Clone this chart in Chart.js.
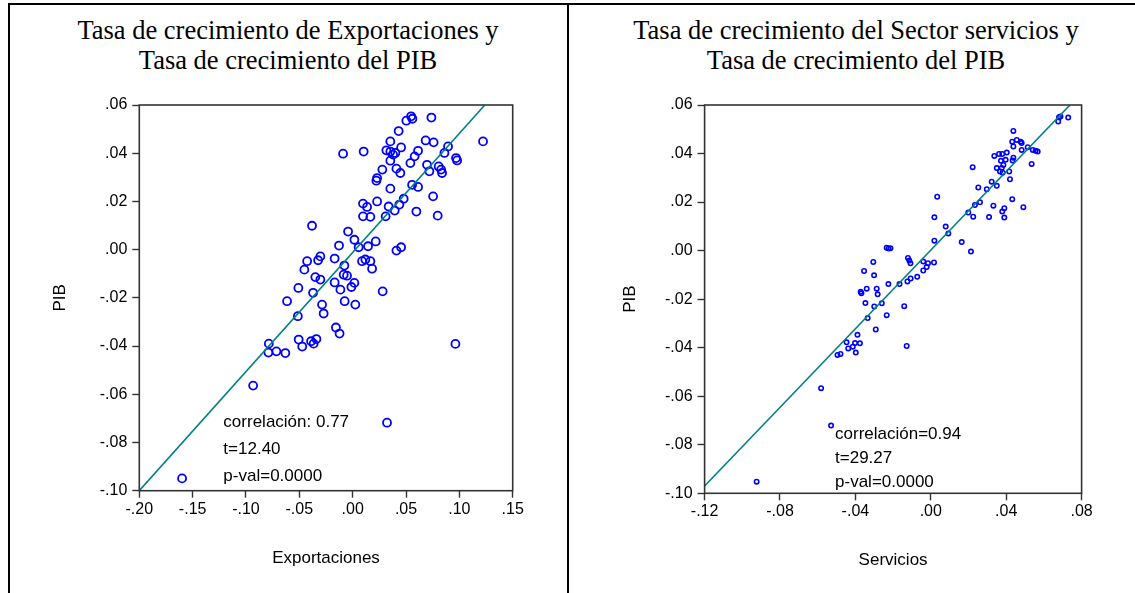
<!DOCTYPE html>
<html>
<head>
<meta charset="utf-8">
<script src="https://cdn.jsdelivr.net/npm/chart.js@4.4.0/dist/chart.umd.min.js"></script>
<style>
  html, body { margin: 0; padding: 0; background: #fff; }
  body { width: 1135px; height: 593px; position: relative; overflow: hidden; }
  .rule { position: absolute; background: #000; }
  .title {
    position: absolute; top: 15px; text-align: center;
    font-family: "Liberation Serif", "Times New Roman", serif;
    font-size: 26.5px; line-height: 30px; color: #000; white-space: nowrap;
  }
  canvas { position: absolute; top: 0; }
</style>
</head>
<body>
<div class="rule" style="left:8px; top:3px; width:1127px; height:1.5px;"></div>
<div class="rule" style="left:8px; top:3px; width:1.5px; height:590px;"></div>
<div class="rule" style="left:567px; top:3px; width:1.5px; height:590px;"></div>

<div class="title" style="left:8px; width:560px;">Tasa de crecimiento de Exportaciones y<br>Tasa de crecimiento del PIB</div>
<div class="title" style="left:576px; width:560px;">Tasa de crecimiento del Sector servicios y<br>Tasa de crecimiento del PIB</div>

<canvas id="chartExport" width="568" height="593" style="left:0;"></canvas>
<canvas id="chartServ" width="567" height="593" style="left:568px;"></canvas>

<script>
// Growth rates: exports vs GDP
const exportX = [-0.0090, 0.0103, 0.0353, 0.0316, 0.0353, 0.0379, 0.0400, 0.0454, 0.0431, 0.0503,
  0.0548, 0.0560, 0.0738, 0.0684, 0.0759, 0.0894, 0.0860, 0.0613, 0.0581, 0.0541,
  0.0353, 0.0410, 0.0447, 0.0278, 0.0229, 0.0222, 0.0353, 0.0557, 0.0613, 0.0697,
  0.0719, 0.0806, 0.0829, 0.0838, 0.0969, 0.0979, 0.1222, 0.0754, 0.0797, 0.0597,
  0.0478, 0.0438, 0.0394, 0.0337, 0.0309, 0.0229, 0.0097, 0.0135, 0.0097, 0.0166,
  -0.0043, 0.0016, -0.0128, 0.0056, 0.0144, 0.0216, 0.0410, 0.0454, -0.0381, -0.0303,
  -0.0324, -0.0427, -0.0453, -0.0169, -0.0078, 0.0088, 0.0119, 0.0166, 0.0182, -0.0084,
  -0.0053, -0.0169, 0.0016, -0.0012, -0.0115, -0.0350, -0.0303, -0.0509, -0.0371, -0.0615,
  -0.0287, -0.0272, -0.0075, 0.0025, 0.0281, -0.0514, -0.0157, -0.0123, -0.0506, -0.0390,
  -0.0340, -0.0366, -0.0473, -0.0786, -0.0790, -0.0715, -0.0631, -0.0933, 0.0322, 0.0963,
  -0.1599];
const exportPIB = [0.0398, 0.0407, 0.0449, 0.0412, 0.0407, 0.0394, 0.0401, 0.0424, 0.0492, 0.0535,
  0.0553, 0.0543, 0.0548, 0.0453, 0.0445, 0.0428, 0.0401, 0.0410, 0.0387, 0.0359,
  0.0369, 0.0336, 0.0318, 0.0332, 0.0297, 0.0286, 0.0253, 0.0269, 0.0260, 0.0352,
  0.0325, 0.0345, 0.0332, 0.0318, 0.0380, 0.0370, 0.0449, 0.0221, 0.0141, 0.0158,
  0.0211, 0.0187, 0.0162, 0.0179, 0.0138, 0.0200, 0.0191, 0.0177, 0.0138, 0.0136,
  0.0075, 0.0041, 0.0017, 0.0010, 0.0014, 0.0034, -0.0004, 0.0010, 0.0099, -0.0028,
  -0.0044, -0.0048, -0.0083, -0.0037, -0.0066, -0.0048, -0.0041, -0.0048, -0.0079, -0.0104,
  -0.0108, -0.0136, -0.0138, -0.0155, -0.0166, -0.0114, -0.0124, -0.0159, -0.0179, -0.0214,
  -0.0228, -0.0265, -0.0214, -0.0228, -0.0173, -0.0276, -0.0323, -0.0348, -0.0373, -0.0380,
  -0.0371, -0.0390, -0.0402, -0.0390, -0.0427, -0.0422, -0.0429, -0.0564, -0.0718, -0.0391,
  -0.0949];

// Growth rates: services sector vs GDP
const servX = [0.0680, 0.0688, 0.0676, 0.0729, 0.0438, 0.0432, 0.0456, 0.0477, 0.0482, 0.0438,
  0.0514, 0.0482, 0.0541, 0.0556, 0.0567, 0.0337, 0.0362, 0.0379, 0.0403, 0.0438,
  0.0434, 0.0397, 0.0372, 0.0535, 0.0385, 0.0350, 0.0376, 0.0367, 0.0381, 0.0416,
  0.0222, 0.0420, 0.0323, 0.0350, 0.0297, 0.0252, 0.0432, 0.0491, 0.0332, 0.0390,
  0.0379, 0.0390, 0.0309, 0.0261, 0.0234, 0.0199, 0.0225, 0.0034, 0.0019, 0.0079,
  0.0093, 0.0019, 0.0164, 0.0213, -0.0234, -0.0224, -0.0214, -0.0121, -0.0114, -0.0108,
  -0.0040, -0.0015, 0.0017, -0.0022, -0.0040, -0.0072, -0.0107, -0.0124, -0.0166, -0.0225,
  -0.0305, -0.0354, -0.0301, -0.0372, -0.0340, -0.0287, -0.0282, -0.0347, -0.0300, -0.0260,
  -0.0141, -0.0335, -0.0234, -0.0292, -0.0128, -0.0389, -0.0447, -0.0402, -0.0376, -0.0414,
  -0.0438, -0.0398, -0.0495, -0.0479, -0.0582, -0.0529, -0.0924, -0.0368];
const servPIB = [0.0550, 0.0553, 0.0532, 0.0548, 0.0493, 0.0449, 0.0456, 0.0449, 0.0443, 0.0429,
  0.0426, 0.0415, 0.0415, 0.0411, 0.0408, 0.0390, 0.0398, 0.0398, 0.0404, 0.0383,
  0.0371, 0.0374, 0.0370, 0.0357, 0.0353, 0.0340, 0.0340, 0.0326, 0.0321, 0.0326,
  0.0344, 0.0294, 0.0284, 0.0267, 0.0253, 0.0260, 0.0212, 0.0179, 0.0185, 0.0175,
  0.0161, 0.0136, 0.0138, 0.0199, 0.0188, 0.0157, 0.0140, 0.0222, 0.0137, 0.0099,
  0.0071, 0.0041, 0.0035, -0.0004, 0.0012, 0.0009, 0.0010, -0.0030, -0.0041, -0.0052,
  -0.0045, -0.0052, -0.0049, -0.0068, -0.0082, -0.0108, -0.0115, -0.0127, -0.0138, -0.0138,
  -0.0047, -0.0084, -0.0102, -0.0170, -0.0157, -0.0157, -0.0180, -0.0216, -0.0230, -0.0217,
  -0.0229, -0.0278, -0.0266, -0.0325, -0.0393, -0.0347, -0.0378, -0.0381, -0.0382, -0.0396,
  -0.0403, -0.0420, -0.0430, -0.0426, -0.0567, -0.0721, -0.0952, -0.0176];

// Fitted lines: [intercept, slope]
const exportFit = [-0.0012, 0.494];
const servFit = [0.0002, 0.810];

// Statistics shown inside each plot
const exportStats = ['correlación: 0.77', 't=12.40', 'p-val=0.0000'];
const servStats = ['correlación=0.94', 't=29.27', 'p-val=0.0000'];

// Axis ticks
const pibTicks = [-0.10, -0.08, -0.06, -0.04, -0.02, 0.00, 0.02, 0.04, 0.06];
const pibLabels = ['-.10', '-.08', '-.06', '-.04', '-.02', '.00', '.02', '.04', '.06'];
const exportTicks = [-0.20, -0.15, -0.10, -0.05, 0.00, 0.05, 0.10, 0.15];
const exportLabels = ['-.20', '-.15', '-.10', '-.05', '.00', '.05', '.10', '.15'];
const servTicks = [-0.12, -0.08, -0.04, 0.00, 0.04, 0.08];
const servLabels = ['-.12', '-.08', '-.04', '.00', '.04', '.08'];

const SANS = '"Liberation Sans", Arial, sans-serif';
const FRAME = '#333333';

function labelFor(ticks, labels, v) {
  const i = ticks.findIndex(t => Math.abs(t - v) < 1e-9);
  return i >= 0 ? labels[i] : '';
}

// Box around the plotting area plus the statistics text block
const framePlugin = {
  id: 'frameAndStats',
  afterDraw(chart, args, opts) {
    const { ctx, chartArea: a, scales } = chart;
    ctx.save();
    ctx.strokeStyle = FRAME;
    ctx.lineWidth = 1.6;
    ctx.strokeRect(a.left, a.top, a.right - a.left, a.bottom - a.top);
    ctx.fillStyle = '#000';
    ctx.font = opts.fontSize + 'px ' + SANS;
    ctx.textAlign = 'left';
    ctx.textBaseline = 'middle';
    const x0 = scales.x.getPixelForValue(opts.anchor[0]);
    const y0 = scales.y.getPixelForValue(opts.anchor[1]);
    opts.lines.forEach((t, i) => ctx.fillText(t, x0, y0 + i * opts.gap));
    ctx.restore();
  }
};

function buildChart(id, cfg) {
  const pts = cfg.xs.map((x, i) => ({ x: x, y: cfg.ys[i] }));
  const a = cfg.fit[0], b = cfg.fit[1];
  const xa = Math.max(cfg.xMin, (cfg.yMin - a) / b);
  const xb = Math.min(cfg.xMax, (cfg.yMax - a) / b);
  const fitPts = [{ x: xa, y: a + b * xa }, { x: xb, y: a + b * xb }];

  return new Chart(document.getElementById(id), {
    type: 'scatter',
    data: {
      datasets: [
        {
          type: 'line', data: fitPts, borderColor: '#008080', borderWidth: 1.6,
          pointRadius: 0, fill: false, order: 0
        },
        {
          data: pts, pointStyle: 'circle', pointRadius: cfg.r, pointBorderWidth: cfg.bw,
          borderColor: '#0000ff', pointBorderColor: '#0000ff',
          backgroundColor: 'rgba(0,0,0,0)', pointBackgroundColor: 'rgba(0,0,0,0)', order: 1
        }
      ]
    },
    options: {
      responsive: false, animation: false, devicePixelRatio: 1,
      layout: { padding: { top: 105, right: cfg.padRight, bottom: 0, left: 0 } },
      plugins: {
        legend: { display: false }, tooltip: { enabled: false }, title: { display: false },
        frameAndStats: { anchor: cfg.statAnchor, lines: cfg.stats, gap: cfg.statGap, fontSize: 17 }
      },
      scales: {
        x: {
          type: 'linear', min: cfg.xMin, max: cfg.xMax,
          afterBuildTicks: s => { s.ticks = cfg.xTicks.map(v => ({ value: v })); },
          afterFit: s => { s.height = cfg.xAxisH; },
          grid: { display: true, drawOnChartArea: false, drawTicks: true, tickLength: 7, tickColor: FRAME, tickWidth: 1.4 },
          border: { display: false },
          ticks: {
            autoSkip: false, maxRotation: 0, padding: 2, color: '#000',
            font: { family: SANS, size: 16 },
            callback: v => labelFor(cfg.xTicks, cfg.xLabels, v)
          },
          title: { display: true, text: cfg.xTitle, color: '#000', font: { family: SANS, size: 17 },
                   padding: { top: 0, bottom: cfg.xTitlePad } }
        },
        y: {
          type: 'linear', min: cfg.yMin, max: cfg.yMax,
          afterBuildTicks: s => { s.ticks = pibTicks.map(v => ({ value: v })); },
          afterFit: s => { s.width = cfg.yAxisW; },
          grid: { display: true, drawOnChartArea: false, drawTicks: true, tickLength: 7, tickColor: FRAME, tickWidth: 1.4 },
          border: { display: false },
          ticks: {
            autoSkip: false, padding: 5, color: '#000',
            font: { family: SANS, size: 16 },
            callback: v => labelFor(pibTicks, pibLabels, v)
          },
          title: { display: true, text: 'PIB', color: '#000', font: { family: SANS, size: 17 },
                   padding: { top: cfg.yTitlePad, bottom: 0 } }
        }
      }
    },
    plugins: [framePlugin]
  });
}

buildChart('chartExport', {
  xs: exportX, ys: exportPIB, fit: exportFit, stats: exportStats,
  xMin: -0.20, xMax: 0.15, yMin: -0.10, yMax: 0.06,
  xTicks: exportTicks, xLabels: exportLabels, xTitle: 'Exportaciones',
  r: 4, bw: 1.8,
  padRight: 55.3, xAxisH: 102.3, yAxisW: 139.3, xTitlePad: 24.8, yTitlePad: 49.8,
  statAnchor: [-0.1212, -0.0718], statGap: 26.7
});

buildChart('chartServ', {
  xs: servX, ys: servPIB, fit: servFit, stats: servStats,
  xMin: -0.12, xMax: 0.08, yMin: -0.10, yMax: 0.06,
  xTicks: servTicks, xLabels: servLabels, xTitle: 'Servicios',
  r: 2.2, bw: 1.6,
  padRight: 53.4, xAxisH: 99.7, yAxisW: 136.6, xTitlePad: 22.8, yTitlePad: 51.8,
  statAnchor: [-0.0508, -0.0755], statGap: 24
});
</script>
</body>
</html>
